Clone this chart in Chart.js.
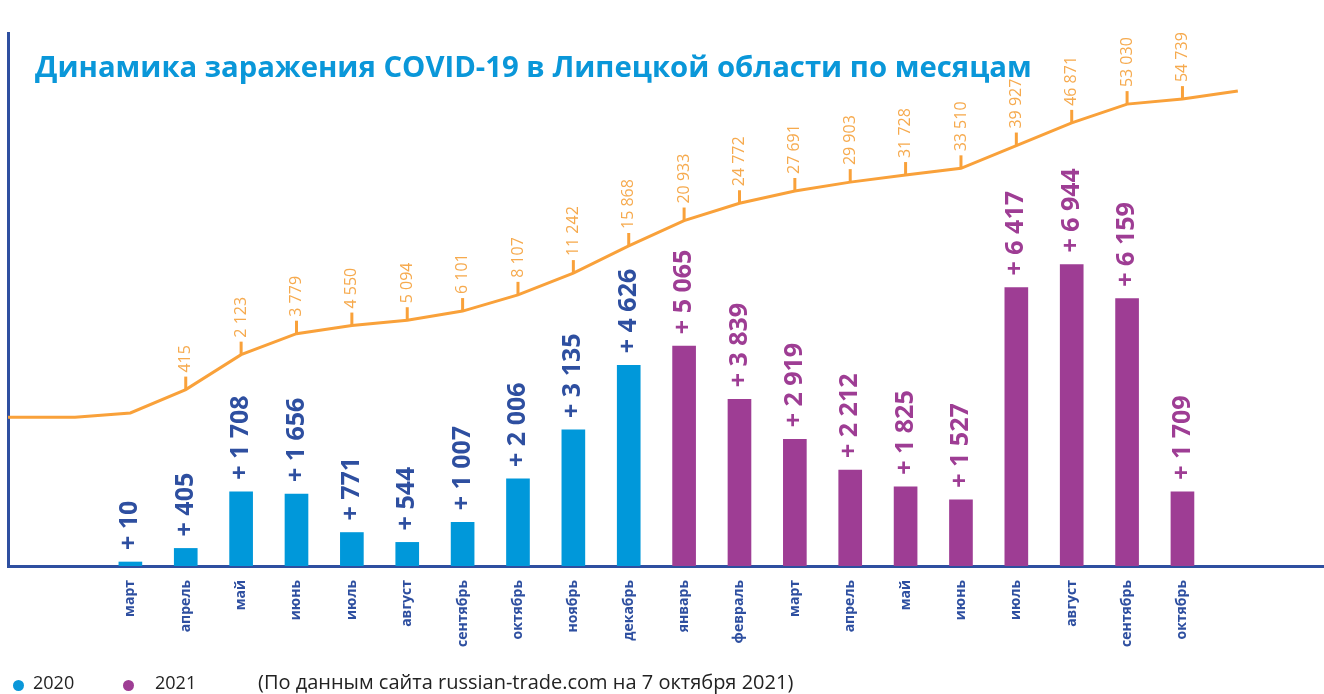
<!DOCTYPE html>
<html>
<head>
<meta charset="utf-8">
<script src="https://cdn.jsdelivr.net/npm/chart.js@4.4.1/dist/chart.umd.min.js"></script>
<style>
  html, body { margin: 0; padding: 0; background: #ffffff; }
  #wrap { position: relative; width: 1324px; height: 694px; overflow: hidden; }
  #c { position: absolute; left: 0; top: 0; }
  #title { position: absolute; left: 35px; top: 46px; font: bold 29.3px "Open Sans", sans-serif; color: #0a97d9; white-space: nowrap; }
  .foot { position: absolute; top: 670px; font: 18px "Open Sans", sans-serif; color: #222222; white-space: nowrap; }
  .dot { position: absolute; width: 11px; height: 11px; border-radius: 50%; top: 680px; }
</style>
</head>
<body>
<div id="wrap">
  <canvas id="c" width="1324" height="694"></canvas>
  <div id="title">Динамика заражения COVID-19 в Липецкой области по месяцам</div>
  <div class="dot" style="left:13px;background:#0a97d9"></div>
  <div class="foot" style="left:33px">2020</div>
  <div class="dot" style="left:123px;background:#9e3d94"></div>
  <div class="foot" style="left:155px">2021</div>
  <div class="foot" style="left:258px;top:668px;font-size:20px">(По данным сайта russian-trade.com на 7 октября 2021)</div>
</div>
<script>
// ---- data ----
const months = ["март","апрель","май","июнь","июль","август","сентябрь","октябрь","ноябрь","декабрь",
                "январь","февраль","март","апрель","май","июнь","июль","август","сентябрь","октябрь"];
const increments2020 = [10, 405, 1708, 1656, 771, 544, 1007, 2006, 3135, 4626];
const increments2021 = [5065, 3839, 2919, 2212, 1825, 1527, 6417, 6944, 6159, 1709];
const cumulative = [10, 415, 2123, 3779, 4550, 5094, 6101, 8107, 11242, 15868,
                    20933, 24772, 27691, 29903, 31728, 33510, 39927, 46871, 53030, 54739];
const cumulativeBefore = [0, 0, 0];          // before March 2020: no cases
const cumulativeAfterEstimate = [57600];      // unlabeled continuation of the line

const COL2020 = '#0098da', COL2021 = '#9e3d94', AXIS = '#2e4fa0', ORANGE = '#f9a13a', ORANGE_TXT = '#f6aa4e';

const fmt = v => String(v).replace(/\B(?=(\d{3})+(?!\d))/g, ' ');

// square-root value axis for the cumulative line
const sq = v => Math.sign(v) * Math.sqrt(Math.abs(v));
class SqrtScale extends Chart.LinearScale {
  static id = 'sqrt';
  static defaults = Chart.LinearScale.defaults;
  getPixelForValue(value) {
    const a = sq(this.min), b = sq(this.max);
    return this.getPixelForDecimal((sq(value) - a) / (b - a));
  }
  getValueForPixel(pixel) {
    const a = sq(this.min), b = sq(this.max);
    const t = a + this.getDecimalForPixel(pixel) * (b - a);
    return Math.sign(t) * t * t;
  }
}
Chart.register(SqrtScale);

const bar2020 = increments2020.map((v, i) => ({ x: i, y: v }));
const bar2021 = increments2021.map((v, i) => ({ x: i + increments2020.length, y: v }));
const linePts = [
  ...cumulativeBefore.map((v, i) => ({ x: i - cumulativeBefore.length, y: v, show: false })),
  ...cumulative.map((v, i) => ({ x: i, y: v, show: i > 0 })),
  ...cumulativeAfterEstimate.map((v, i) => ({ x: cumulative.length + i, y: v, show: false }))
];

const labelsPlugin = {
  id: 'valueLabels',
  afterDatasetsDraw(chart) {
    const ctx = chart.ctx;
    [0, 1].forEach(di => {
      const meta = chart.getDatasetMeta(di);
      const ds = chart.data.datasets[di];
      meta.data.forEach((el, i) => {
        ctx.save();
        ctx.translate(el.x, el.y - 12);
        ctx.rotate(-Math.PI / 2);
        ctx.font = 'bold 25px "Open Sans"';
        ctx.fillStyle = ds.labelColor;
        ctx.textAlign = 'left';
        ctx.textBaseline = 'middle';
        ctx.fillText('+ ' + fmt(ds.data[i].y), 0, 0);
        ctx.restore();
      });
    });
    const lm = chart.getDatasetMeta(2);
    const lds = chart.data.datasets[2];
    lm.data.forEach((el, i) => {
      const p = lds.data[i];
      if (!p.show) return;
      ctx.save();
      ctx.strokeStyle = ORANGE;
      ctx.lineWidth = 3;
      ctx.beginPath();
      ctx.moveTo(el.x, el.y);
      ctx.lineTo(el.x, el.y - 13);
      ctx.stroke();
      ctx.translate(el.x, el.y - 17);
      ctx.rotate(-Math.PI / 2);
      ctx.font = '16px "Open Sans"';
      ctx.fillStyle = ORANGE_TXT;
      ctx.textAlign = 'left';
      ctx.textBaseline = 'middle';
      ctx.fillText(fmt(p.y), 0, 0);
      ctx.restore();
    });
  }
};

new Chart(document.getElementById('c'), {
  type: 'bar',
  data: {
    datasets: [
      { label: '2020', data: bar2020, backgroundColor: COL2020, labelColor: AXIS, barThickness: 23, minBarLength: 4, grouped: false },
      { label: '2021', data: bar2021, backgroundColor: COL2021, labelColor: COL2021, barThickness: 23, minBarLength: 4, grouped: false },
      { type: 'line', label: 'total', data: linePts, yAxisID: 'y2', borderColor: ORANGE, borderWidth: 3,
        pointRadius: 0, tension: 0, fill: false }
    ]
  },
  options: {
    responsive: false,
    animation: false,
    layout: { padding: { top: 33, left: 0, right: 0, bottom: 0 } },
    plugins: { legend: { display: false }, tooltip: { enabled: false }, title: { display: false } },
    scales: {
      x: {
        type: 'linear', min: -2.21, max: 21.54, offset: false,
        grid: { display: false, drawTicks: false },
        border: { display: true, color: AXIS, width: 3 },
        ticks: {
          stepSize: 1, autoSkip: false, minRotation: 90, maxRotation: 90, includeBounds: false,
          padding: 14, color: AXIS, font: { family: 'Open Sans', weight: 'bold', size: 14 },
          callback: v => (Number.isInteger(v) && months[v] !== undefined) ? months[v] : ''
        },
        afterFit: s => { s.height = 128; }
      },
      y: {
        min: 0, max: 12280, position: 'left',
        grid: { display: false, drawTicks: false },
        border: { display: true, color: AXIS, width: 3 },
        ticks: { display: false },
        afterFit: s => { s.width = 8; }
      },
      y2: { type: 'sqrt', display: false, min: -11955, max: 79846 }
    }
  },
  plugins: [labelsPlugin]
});
</script>
</body>
</html>
